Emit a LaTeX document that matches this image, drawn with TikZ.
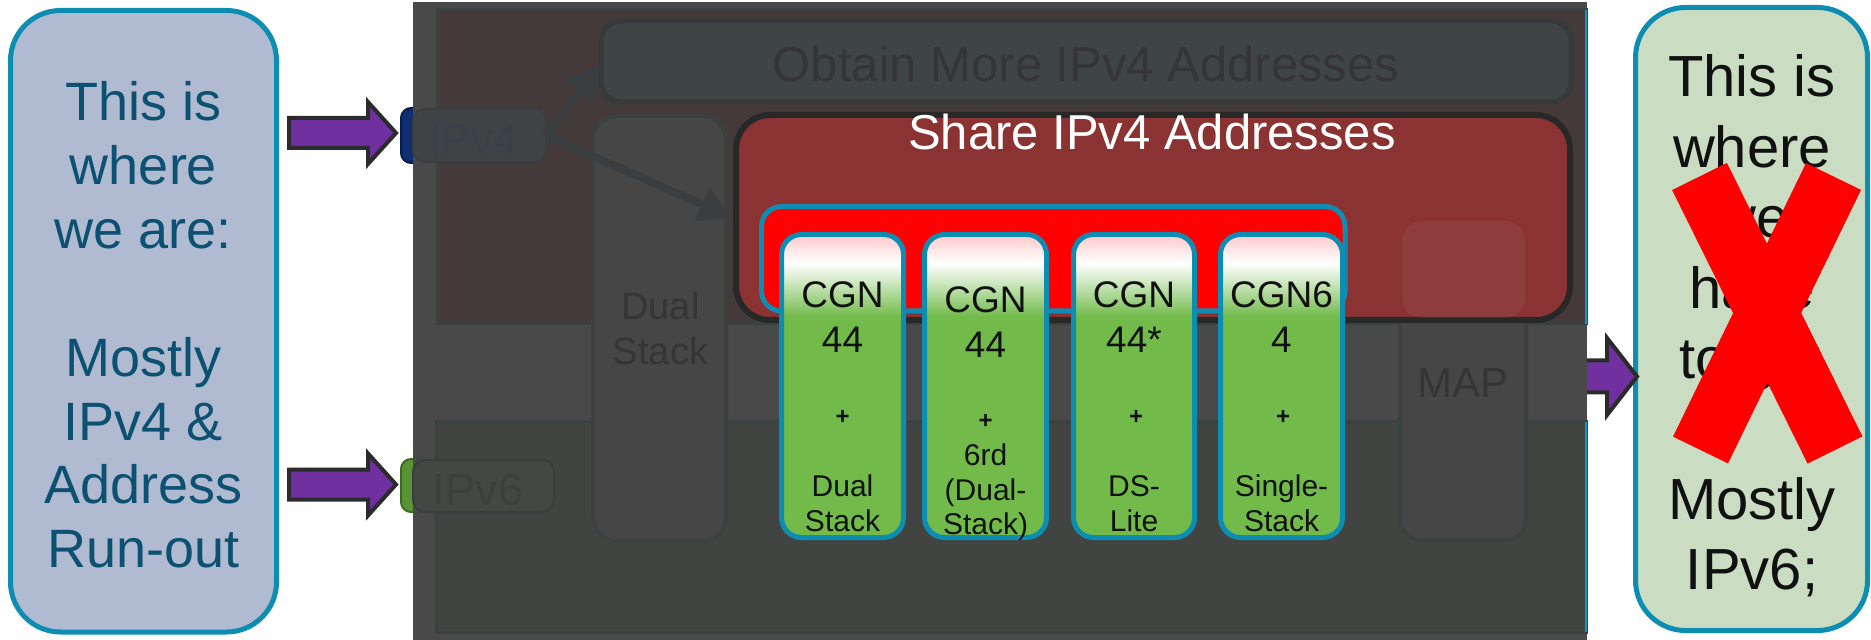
\documentclass[tikz,border=0pt]{standalone}
\usepackage{fontspec}
\setmainfont{Liberation Sans}
\usetikzlibrary{arrows.meta,fit,calc}

\definecolor{leftfill}{HTML}{B0BAD0}
\definecolor{rightfill}{HTML}{CADDC2}
\definecolor{rimblue}{HTML}{0E8DB3}
\definecolor{lefttext}{HTML}{0C5072}
\definecolor{nearblack}{HTML}{111111}
\definecolor{arrowpurple}{HTML}{7030A0}
\definecolor{arrowedge}{HTML}{2B2B2B}
\definecolor{tabnavy}{HTML}{0F2E70}
\definecolor{tabnavydark}{HTML}{081D4C}
\definecolor{tabgreen}{HTML}{5A9333}
\definecolor{tabgreendark}{HTML}{3E6B21}
\definecolor{panelgray}{HTML}{494949}
\definecolor{brownzone}{HTML}{443A3A}
\definecolor{lowzone}{HTML}{414441}
\definecolor{dimedge}{HTML}{3B4141}
\definecolor{colgray}{HTML}{464646}
\definecolor{dimtext}{HTML}{353535}
\definecolor{obtainfill}{HTML}{3F4445}
\definecolor{obtainedge}{HTML}{363A3B}
\definecolor{sharefill}{HTML}{8A3332}
\definecolor{shareedge}{HTML}{282828}
\definecolor{trayred}{HTML}{FF0000}
\definecolor{cgngreen}{HTML}{72BB4B}
\definecolor{cgnmint}{HTML}{C4E3B4}
\definecolor{cgnpink}{HTML}{FCC8C8}
\definecolor{tabdimfour}{HTML}{3F4346}
\definecolor{tabdimsix}{HTML}{434842}
\definecolor{tabdimedge}{HTML}{3A3E40}
\definecolor{vfourtext}{HTML}{3A4047}
\definecolor{vsixtext}{HTML}{3B403B}
\definecolor{linkgray}{HTML}{3A3E41}
\definecolor{edgecyan}{HTML}{1098C8}
\definecolor{xred}{HTML}{FF0000}

% glossy top on the green CGN tiles (path box spans 25bp..75bp)
\pgfdeclareverticalshading{cgngloss}{100bp}{color(0bp)=(cgngreen); color(61.5bp)=(cgngreen); color(66.5bp)=(cgnmint); color(70.3bp)=(white); color(72.5bp)=(cgnpink!45!white); color(75bp)=(cgnpink); color(100bp)=(cgnpink)}

\tikzset{
  every node/.style={inner sep=0pt, outer sep=0pt},
  sidebox/.style={draw=rimblue, line width=2.5pt, rounded corners=25pt},
  sidetext/.style={anchor=base, text=lefttext, font=\fontsize{27pt}{32pt}\selectfont},
  goaltext/.style={anchor=base, text=nearblack, font=\fontsize{29pt}{35pt}\selectfont},
  bigarrow/.style={fill=arrowpurple, draw=arrowedge, line width=2pt, line join=miter},
  dimbox/.style={draw=dimedge, line width=2pt},
  dimlabel/.style={anchor=base, text=dimtext},
  dimlink/.style={draw=linkgray, line width=4pt, -{Triangle[length=17pt,width=17pt]}},
  cgnbox/.style={draw=rimblue, line width=2.5pt, rounded corners=10pt, shade, shading=cgngloss},
  cgnmain/.style={anchor=base, text=nearblack, font=\fontsize{18.5pt}{20pt}\selectfont},
  cgnplus/.style={anchor=base, text=nearblack, font=\fontsize{12pt}{14pt}\selectfont\bfseries},
  cgnsub/.style={anchor=base, text=nearblack, font=\fontsize{15pt}{17pt}\selectfont},
  crossbar/.style={draw=xred, line width=30.6pt, line cap=butt},
}

\begin{document}
\begin{tikzpicture}[x=0.5pt, y=-0.5pt]
\useasboundingbox (0,0) rectangle (1871,640);

% present state
\node[sidebox, fill=leftfill, fit={(10.5,10.5) (276.5,632)}] (now) {};
\foreach \txt/\yb [count=\i] in {This is/121, where/184.8, we are:/248.6, Mostly/376.2, IPv4 \&/440, Address/503.8, Run-out/567.6}
  \node[sidetext] (now\i) at (143.5,\yb) {\txt};

% target state
\node[sidebox, fill=rightfill, fit={(1635.5,7.5) (1867.5,630.5)}] (goal) {};
\foreach \txt/\yb [count=\i] in {This is/97, where/167.4, we/237.8, have/308.2, to go:/378.6, Mostly/519.4, IPv6;/589.8}
  \node[goaltext] (goal\i) at (1752,\yb) {\txt};

% block arrows
\draw[bigarrow] (289,118) -- (368,118) -- (368,102) -- (396,133) -- (368,164) -- (368,148) -- (289,148) -- cycle;
\draw[bigarrow] (289,469.5) -- (368,469.5) -- (368,453.5) -- (396,484.5) -- (368,515.5) -- (368,499.5) -- (289,499.5) -- cycle;
\draw[bigarrow] (1560,360.5) -- (1607,360.5) -- (1607,338) -- (1637,376.5) -- (1607,415) -- (1607,392.5) -- (1560,392.5) -- cycle;

% protocol tabs, their left edges stick out of the panel
\node[fit={(401,108) (470,163)}, fill=tabnavy, draw=tabnavydark, line width=1pt, rounded corners=5pt] (vfourtab) {};
\node[fit={(401,459) (470,512)}, fill=tabgreen, draw=tabgreendark, line width=1pt, rounded corners=5pt] (vsixtab) {};

% greyed-out transition panel
\node[fit={(413,2) (1587,640)}, fill=panelgray] (panel) {};
\node[fit={(437,10) (1586,324)}, fill=brownzone, draw=dimedge, line width=1.5pt] (vfourzone) {};
\node[fit={(436,422) (1586,632)}, fill=lowzone, draw=dimedge, line width=1.5pt] (vsixzone) {};
\draw[edgecyan, line width=1pt] (vfourzone.north east) -- (vfourzone.south east);
\draw[edgecyan, line width=1pt] (vsixzone.north east) -- (vsixzone.south east);

\node[dimbox, rounded corners=12pt, fill=colgray, fit={(593,116) (726,541)}] (dual) {};
\node[dimlabel, font=\fontsize{19pt}{21pt}\selectfont] (dualA) at (660.5,320) {Dual};
\node[dimlabel, font=\fontsize{19pt}{21pt}\selectfont] (dualB) at (660.5,365) {Stack};
\node[dimbox, rounded corners=10pt, fill=colgray, fit={(1400,220) (1526,540)}] (map) {};
\node[dimlabel, font=\fontsize{21pt}{23pt}\selectfont] (maplabel) at (1463,398) {MAP};

\node[draw=obtainedge, line width=2.5pt, rounded corners=10pt, fill=obtainfill, fit={(601,21) (1571,102)}] (obtain) {};
\node[dimlabel, font=\fontsize{24.5pt}{27pt}\selectfont] (obtainlabel) at (1086,82) {Obtain More IPv4 Addresses};

% address sharing
\node[draw=shareedge, line width=3pt, rounded corners=17pt, fill=sharefill, fit={(736,115) (1570,320)}] (share) {};
\fill[white, opacity=0.05, rounded corners=10pt] (1402,221) rectangle (1525,318);
\node[anchor=base, text=white, font=\fontsize{24.5pt}{27pt}\selectfont] (sharelabel) at (1152,150) {Share IPv4 Addresses};

\node[draw=rimblue, line width=2.5pt, rounded corners=10pt, fill=trayred, fit={(761.5,206.5) (1345,311)}] (tray) {};

\node[cgnbox, fit={(781.5,234.5) (903.5,537.5)}] (cgnA) {};
\node[cgnbox, fit={(924.5,234.5) (1046.5,537.5)}] (cgnB) {};
\node[cgnbox, fit={(1073.5,234.5) (1194.5,537.5)}] (cgnC) {};
\node[cgnbox, fit={(1220.5,234.5) (1342.5,537.5)}] (cgnD) {};

\node[cgnmain] (a1) at (842.5,308) {CGN};
\node[cgnmain] (a2) at (842.5,353) {44};
\node[cgnplus] (a3) at (842.5,424) {+};
\node[cgnsub]  (a4) at (842.5,496) {Dual};
\node[cgnsub]  (a5) at (842.5,531) {Stack};

\node[cgnmain] (b1) at (985.5,313) {CGN};
\node[cgnmain] (b2) at (985.5,358) {44};
\node[cgnplus] (b3) at (985.5,429) {+};
\node[cgnsub]  (b4) at (985.5,466) {6rd};
\node[cgnsub]  (b5) at (985.5,500) {(Dual-};
\node[cgnsub]  (b6) at (985.5,534) {Stack)};

\node[cgnmain] (c1) at (1134,308) {CGN};
\node[cgnmain] (c2) at (1134,353) {44*};
\node[cgnplus] (c3) at (1136,424) {+};
\node[cgnsub]  (c4) at (1134,496) {DS-};
\node[cgnsub]  (c5) at (1134,531) {Lite};

\node[cgnmain] (d1) at (1281.5,308) {CGN6};
\node[cgnmain] (d2) at (1281.5,353) {4};
\node[cgnplus] (d3) at (1283,424) {+};
\node[cgnsub]  (d4) at (1281.5,496) {Single-};
\node[cgnsub]  (d5) at (1281.5,531) {Stack};

% greyed protocol tabs
\node[fit={(413,109) (546,162)}, fill=tabdimfour, draw=tabdimedge, line width=1pt, rounded corners=6pt] (ipv4) {};
\node[dimlabel, text=vfourtext, font=\fontsize{22pt}{24pt}\selectfont] (ipvfourlabel) at (473.5,155) {IPv4};
\node[fit={(413,460) (554,512)}, fill=tabdimsix, draw=tabdimedge, line width=1pt, rounded corners=6pt] (ipv6) {};
\node[dimlabel, text=vsixtext, font=\fontsize{22.5pt}{24pt}\selectfont] (ipvsixlabel) at (478,505) {IPv6};

\draw[dimlink] (ipv4.east) -- ($(obtain.south west)+(-1,-38)$);
\draw[dimlink] (ipv4.east) -- ($(share.north west)+(-3,103)$);

% cross over the target state
\draw[crossbar] (1699.5,176.5) -- (1835,450);
\draw[crossbar] (1833.5,176.5) -- (1700.5,450);
\end{tikzpicture}
\end{document}
